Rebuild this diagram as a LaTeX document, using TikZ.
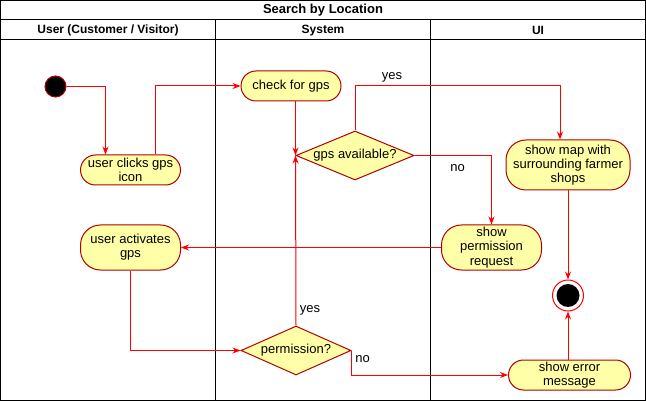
\documentclass[tikz,border=0pt]{standalone}
\usepackage{fontspec}
\setmainfont{Liberation Sans}
\usetikzlibrary{shapes.geometric,arrows.meta}
\definecolor{lanered}{HTML}{FF0000}
\definecolor{boxred}{HTML}{B20000}
\definecolor{boxfill}{HTML}{FFFFA8}

\begin{document}
\begin{tikzpicture}[x=1pt,y=-1pt,font=\fontsize{13}{14.2}\selectfont]
  \tikzstyle{action} = [draw=boxred, fill=boxfill, line width=1pt, rounded corners=15pt, align=center, inner sep=0pt, minimum width=100pt, minimum height=30pt]
  \tikzstyle{choice} = [draw=boxred, fill=boxfill, line width=1pt, diamond, aspect=2.4, inner sep=0pt, align=center]
  \tikzstyle{flow} = [draw=lanered, line width=1pt, -{Stealth[length=8pt,width=6pt]}]
  \tikzstyle{head} = [font=\fontsize{12}{14}\selectfont\bfseries]
  \useasboundingbox (0,0) rectangle (646,401);

  % swimlanes
  \draw[line width=1pt] (0.5,0.5) rectangle (645.5,400.5);
  \draw[line width=1pt] (0.5,20) -- (645.5,20);
  \draw[line width=1pt] (0.5,40) -- (645.5,40);
  \draw[line width=1pt] (215.5,20) -- (215.5,400.5);
  \draw[line width=1pt] (430.5,20) -- (430.5,400.5);
  \draw (323,10.5) node[head, font=\fontsize{13}{14}\selectfont\bfseries] (title) {Search by Location};
  \draw (108,30.5) node[head] (lane1) {User (Customer / Visitor)};
  \draw (323,30.5) node[head] (lane2) {System};
  \draw (538,30.5) node[head] (lane3) {UI};

  % states
  \draw (55.5,86.5) node[circle, draw=boxred, fill=black, line width=1pt, minimum size=21pt, inner sep=0pt] (start) {};
  \draw (130.5,170) node[action] (click) {user clicks gps\\icon};
  \draw (291,86) node[action] (check) {check for gps};
  \draw (355,155.5) node[choice, minimum width=118pt, minimum height=49pt] (avail) {gps available?};
  \draw (568,165) node[action, minimum width=124pt, minimum height=50pt, rounded corners=20pt] (showmap) {show map with\\surrounding farmer\\shops};
  \draw (491.5,247.5) node[action, minimum height=45pt, rounded corners=20pt] (request) {show\\permission\\request};
  \draw (130.5,247.5) node[action, minimum height=45pt, rounded corners=20pt] (activate) {user activates\\gps};
  \draw (568,295.5) node[circle, draw=lanered, fill=white, line width=1pt, minimum size=31pt, inner sep=0pt,
    path picture={\fill[black] (path picture bounding box.center) circle (11.5pt);}] (stop) {};
  \draw (296,350.5) node[choice, minimum width=110pt, minimum height=49pt] (perm) {permission?};
  \draw (569.5,375) node[action, minimum width=122pt] (error) {show error\\message};

  % transitions
  \coordinate (bend) at (560,86);
  \draw[flow] (start) -| ([xshift=-25pt]click.north);
  \draw[flow] ([xshift=25pt]click.north) |- (check);
  \draw[flow] (check.south -| avail.west) -- (avail.west);
  \draw[flow] (avail.north) |- (bend) node[pos=0.59, above] {yes} -- (bend |- showmap.north);
  \draw[flow] (avail.east) -| (request.north) node[pos=0.28, below, yshift=-5pt] {no};
  \draw[flow] (request.west) -- (activate.east);
  \draw[flow] (activate.south) |- (perm.west);
  \draw[flow] (perm.north) -- (avail.west) node[pos=0.09, right] {yes};
  \draw[flow] (perm.east) |- (error.west) node[pos=0.17, right] {no};
  \draw[flow] (showmap.south) -- (stop.north);
  \draw[flow] (error.north -| stop.south) -- (stop.south);
\end{tikzpicture}
\end{document}
